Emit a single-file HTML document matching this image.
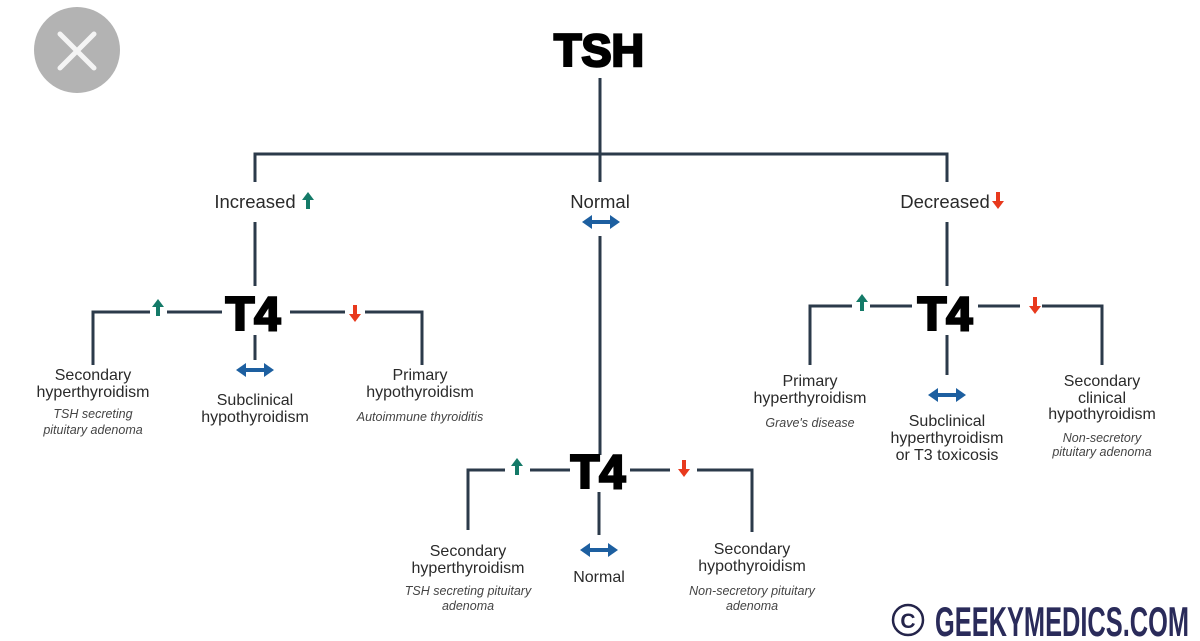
<!DOCTYPE html>
<html><head><meta charset="utf-8"><style>
html,body{margin:0;padding:0;background:#fff;}
svg{display:block;}
.t{font-family:"Liberation Sans",sans-serif;fill:#2a2a2a;font-size:16px;text-anchor:middle;}
.L{font-family:"Liberation Sans",sans-serif;fill:#2a2a2a;font-size:18.5px;text-anchor:middle;}
.i{font-family:"Liberation Sans",sans-serif;fill:#444;font-size:12.5px;font-style:italic;text-anchor:middle;}
.b{font-family:"Liberation Sans",sans-serif;fill:#000;stroke:#000;stroke-width:2.5;font-weight:bold;text-anchor:middle;}
</style></head><body>
<svg width="1200" height="641" viewBox="0 0 1200 641" xmlns="http://www.w3.org/2000/svg">
<defs>
<g id="up"><rect x="-2" y="-3" width="4" height="10" fill="#147a68"/><polygon points="-6,-2 6,-2 0,-10" fill="#147a68"/></g>
<g id="dn"><rect x="-2" y="-7" width="4" height="10" fill="#e8391d"/><polygon points="-6,2 6,2 0,10" fill="#e8391d"/></g>
<g id="lr"><rect x="-12" y="-2" width="24" height="4" fill="#1d5fa0"/><polygon points="-19,0 -9,-7 -9,7" fill="#1d5fa0"/><polygon points="19,0 9,-7 9,7" fill="#1d5fa0"/></g>
</defs>
<circle cx="77" cy="50" r="43" fill="#b3b3b3"/>
<path d="M60 34 L94 68 M94 34 L60 68" stroke="#f4f4f4" stroke-width="5" stroke-linecap="round"/>
<g stroke="#2b3a4a" stroke-width="3" fill="none">
<path d="M600 78 V182"/>
<path d="M255 182 V154 H947 V182"/>
<path d="M255 222 V286"/>
<path d="M947 222 V286"/>
<path d="M600 236 V455"/>
<path d="M93 365 V312 H150 M167 312 H222"/>
<path d="M290 312 H345 M365 312 H422 V365"/>
<path d="M255 335 V360"/>
<path d="M810 365 V306 H852 M870 306 H912"/>
<path d="M978 306 H1020 M1042 306 H1102 V365"/>
<path d="M947 335 V375"/>
<path d="M468 530 V470 H505 M530 470 H570"/>
<path d="M630 470 H670 M697 470 H752 V532"/>
<path d="M599 492 V535"/>
</g>
<text class="b" x="599" y="66" font-size="45">TSH</text>
<text class="L" x="255" y="208">Increased</text>
<use href="#up" x="308" y="202"/>
<text class="L" x="600" y="208">Normal</text>
<use href="#lr" x="601" y="222"/>
<text class="L" x="945" y="208">Decreased</text>
<use href="#dn" x="998" y="199"/>

<text class="b" x="253" y="330" font-size="47">T4</text>
<use href="#up" x="158" y="309"/>
<use href="#dn" x="355" y="312"/>
<use href="#lr" x="255" y="370"/>
<text class="t" x="93" y="380">Secondary</text>
<text class="t" x="93" y="397">hyperthyroidism</text>
<text class="i" x="93" y="418">TSH secreting</text>
<text class="i" x="93" y="434">pituitary adenoma</text>
<text class="t" x="255" y="405">Subclinical</text>
<text class="t" x="255" y="422">hypothyroidism</text>
<text class="t" x="420" y="380">Primary</text>
<text class="t" x="420" y="397">hypothyroidism</text>
<text class="i" x="420" y="421">Autoimmune thyroiditis</text>

<text class="b" x="945" y="330" font-size="47">T4</text>
<use href="#up" x="862" y="304"/>
<use href="#dn" x="1035" y="304"/>
<use href="#lr" x="947" y="395"/>
<text class="t" x="810" y="386">Primary</text>
<text class="t" x="810" y="403">hyperthyroidism</text>
<text class="i" x="810" y="427">Grave's disease</text>
<text class="t" x="947" y="426">Subclinical</text>
<text class="t" x="947" y="443">hyperthyroidism</text>
<text class="t" x="947" y="460">or T3 toxicosis</text>
<text class="t" x="1102" y="386">Secondary</text>
<text class="t" x="1102" y="403">clinical</text>
<text class="t" x="1102" y="419">hypothyroidism</text>
<text class="i" x="1102" y="442">Non-secretory</text>
<text class="i" x="1102" y="456">pituitary adenoma</text>

<text class="b" x="598" y="488" font-size="47">T4</text>
<use href="#up" x="517" y="468"/>
<use href="#dn" x="684" y="467"/>
<use href="#lr" x="599" y="550"/>
<text class="t" x="599" y="582">Normal</text>
<text class="t" x="468" y="556">Secondary</text>
<text class="t" x="468" y="573">hyperthyroidism</text>
<text class="i" x="468" y="595">TSH secreting pituitary</text>
<text class="i" x="468" y="610">adenoma</text>
<text class="t" x="752" y="554">Secondary</text>
<text class="t" x="752" y="571">hypothyroidism</text>
<text class="i" x="752" y="595">Non-secretory pituitary</text>
<text class="i" x="752" y="610">adenoma</text>

<circle cx="908" cy="620" r="15" fill="none" stroke="#24244a" stroke-width="2.5"/>
<text x="908" y="628" font-family="Liberation Sans,sans-serif" font-size="21" font-weight="bold" fill="#24244a" text-anchor="middle">C</text>
<text x="935" y="636" font-family="Liberation Sans,sans-serif" font-size="42" font-weight="bold" fill="#2a2b5a" textLength="254" lengthAdjust="spacingAndGlyphs">GEEKYMEDICS.COM</text>
</svg>
</body></html>
